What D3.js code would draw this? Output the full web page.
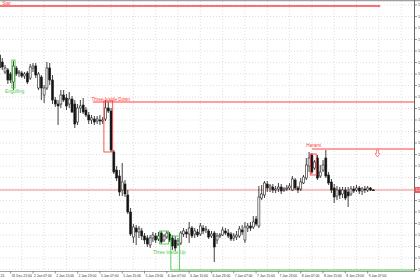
<!DOCTYPE html>
<html lang="en">
<head>
<meta charset="UTF-8">
<title>Candlestick patterns</title>
<script src="https://cdn.jsdelivr.net/npm/d3@7"></script>
<style>
	body { margin: 0; background: #fff; overflow: hidden; }
	svg { display: block; }
	text { font-family: "Liberation Sans", Arial, sans-serif; }
</style>
</head>
<body>
<script type="text/javascript">

	// hourly bars: [open, high, low, close]
	var candles = [
		[1.1945,1.1953,1.1925,1.1932],[1.1938,1.1942,1.1930,1.1933],[1.1928,1.1935,1.1926,1.1932],[1.1930,1.1932,1.1916,1.1920],
		[1.1926,1.1928,1.1917,1.1920],[1.1918,1.1939,1.1910,1.1934],[1.1932,1.1934,1.1924,1.1926],[1.1927,1.1930,1.1923,1.1928],
		[1.1927,1.1929,1.1922,1.1924],[1.1924,1.1928,1.1921,1.1926],[1.1927,1.1929,1.1916,1.1918],[1.1922,1.1936,1.1920,1.1933],
		[1.1932,1.1937,1.1928,1.1934],[1.1934,1.1937,1.1922,1.1925],[1.1912,1.1928,1.1910,1.1926],[1.1923,1.1925,1.1900,1.1912],
		[1.1905,1.1915,1.1897,1.1912],[1.1912,1.1938,1.1910,1.1932],[1.1932,1.1937,1.1915,1.1920],[1.1920,1.1925,1.1896,1.1900],
		[1.1900,1.1903,1.1893,1.1896],[1.1896,1.1900,1.1875,1.1894],[1.1896,1.1910,1.1892,1.1905],[1.1905,1.1910,1.1898,1.1900],
		[1.1902,1.1906,1.1890,1.1894],[1.1896,1.1908,1.1892,1.1901],[1.1901,1.1904,1.1887,1.1888],[1.1896,1.1900,1.1872,1.1876],
		[1.1878,1.1896,1.1875,1.1892],[1.1892,1.1900,1.1887,1.1894],[1.1895,1.1902,1.1886,1.1888],[1.1890,1.1893,1.1883,1.1885],
		[1.1885,1.1888,1.1876,1.1880],[1.1880,1.1885,1.1876,1.1882],[1.1881,1.1884,1.1875,1.1878],[1.1879,1.1884,1.1876,1.1881],
		[1.1880,1.1885,1.1875,1.1879],[1.1879,1.1883,1.1876,1.1880],[1.1881,1.1900,1.1879,1.1892],[1.1892,1.1898,1.1887,1.1889],
		[1.1889,1.1892,1.1848,1.1850],[1.1848,1.1850,1.1826,1.1828],[1.1830,1.1834,1.1819,1.1822],[1.1824,1.1830,1.1804,1.1808],
		[1.1810,1.1837,1.1804,1.1818],[1.1816,1.1820,1.1803,1.1806],[1.1805,1.1810,1.1786,1.1788],[1.1788,1.1792,1.1764,1.1766],
		[1.1763,1.1776,1.1757,1.1773],[1.1772,1.1775,1.1755,1.1768],[1.1768,1.1774,1.1762,1.1771],[1.1769,1.1772,1.1760,1.1764],
		[1.1764,1.1767,1.1756,1.1760],[1.1762,1.1765,1.1753,1.1756],[1.1755,1.1765,1.1752,1.1762],[1.1762,1.1768,1.1758,1.1765],
		[1.1764,1.1767,1.1757,1.1760],[1.1761,1.1768,1.1759,1.1764],[1.1767,1.1769,1.1756,1.1758],[1.1760,1.1766,1.1758,1.1764],
		[1.1763,1.1769,1.1761,1.1767],[1.1766,1.1768,1.1758,1.1760],[1.1762,1.1765,1.1750,1.1754],[1.1760,1.1764,1.1749,1.1752],
		[1.1756,1.1762,1.1754,1.1759],[1.1757,1.1769,1.1755,1.1767],[1.1766,1.1772,1.1763,1.1769],[1.1768,1.1771,1.1762,1.1766],
		[1.1766,1.1778,1.1757,1.1772],[1.1772,1.1774,1.1762,1.1764],[1.1766,1.1772,1.1762,1.1769],[1.1768,1.1771,1.1763,1.1765],
		[1.1766,1.1777,1.1764,1.1774],[1.1772,1.1775,1.1766,1.1769],[1.1770,1.1774,1.1767,1.1771],[1.1769,1.1771,1.1761,1.1763],
		[1.1764,1.1769,1.1762,1.1766],[1.1767,1.1769,1.1738,1.1753],[1.1760,1.1767,1.1756,1.1764],[1.1764,1.1767,1.1762,1.1765],
		[1.1765,1.1773,1.1764,1.1770],[1.1769,1.1772,1.1765,1.1767],[1.1767,1.1771,1.1762,1.1764],[1.1766,1.1768,1.1759,1.1761],
		[1.1762,1.1767,1.1759,1.1764],[1.1763,1.1769,1.1760,1.1765],[1.1764,1.1774,1.1762,1.1771],[1.1770,1.1775,1.1765,1.1768],
		[1.1760,1.1778,1.1757,1.1773],[1.1772,1.1777,1.1768,1.1774],[1.1774,1.1778,1.1769,1.1772],[1.1773,1.1784,1.1771,1.1778],
		[1.1781,1.1784,1.1774,1.1776],[1.1774,1.1814,1.1772,1.1803],[1.1802,1.1815,1.1800,1.1806],[1.1805,1.1819,1.1802,1.1817],
		[1.1816,1.1819,1.1808,1.1812],[1.1812,1.1816,1.1808,1.1814],[1.1813,1.1816,1.1807,1.1810],[1.1810,1.1814,1.1807,1.1811],
		[1.1811,1.1817,1.1808,1.1813],[1.1813,1.1816,1.1806,1.1809],[1.1810,1.1813,1.1808,1.1811],[1.1811,1.1815,1.1809,1.1812],
		[1.1812,1.1817,1.1810,1.1814],[1.1810,1.1824,1.1809,1.1821],[1.1820,1.1822,1.1810,1.1812],[1.1812,1.1814,1.1807,1.1810],
		[1.1811,1.1822,1.1809,1.1818],[1.1817,1.1825,1.1816,1.1823],[1.1822,1.1842,1.1820,1.1835],[1.1834,1.1848,1.1828,1.1842],
		[1.1845,1.1847,1.1826,1.1828],[1.1832,1.1840,1.1830,1.1838],[1.1842,1.1845,1.1820,1.1822],[1.1824,1.1835,1.1822,1.1828],
		[1.1830,1.1840,1.1828,1.1835],[1.1842,1.1850,1.1822,1.1824],[1.1825,1.1828,1.1815,1.1817],[1.1818,1.1821,1.1807,1.1810],
		[1.1812,1.1816,1.1797,1.1803],[1.1804,1.1814,1.1800,1.1810],[1.1810,1.1813,1.1801,1.1805],[1.1806,1.1813,1.1802,1.1810],
		[1.1810,1.1813,1.1800,1.1802],[1.1808,1.1813,1.1793,1.1804],[1.1806,1.1814,1.1804,1.1811],[1.1811,1.1814,1.1807,1.1809],
		[1.1810,1.1815,1.1808,1.1812],[1.1812,1.1814,1.1806,1.1809],[1.1809,1.1813,1.1805,1.1811],[1.1811,1.1814,1.1807,1.1810],
		[1.1810,1.1814,1.1808,1.1812],[1.1812,1.1813,1.1809,1.1810],[1.1810,1.1811,1.1810,1.1810]
	];

	var timeLabels = ["31 Dec 22:00", "2 Jan 07:00", "2 Jan 15:00", "2 Jan 23:00", "5 Jan 07:00", "5 Jan 15:00",
		"5 Jan 23:00", "6 Jan 07:00", "6 Jan 15:00", "6 Jan 23:00", "7 Jan 07:00", "7 Jan 15:00",
		"7 Jan 23:00", "8 Jan 07:00", "8 Jan 15:00", "8 Jan 23:00", "9 Jan 07:00"];
	var timeLabelBars = [4, 12, 20, 28, 36, 44, 52, 60, 68, 76, 84, 92, 100, 108, 116, 124, 132];

	var priceTicks = [1.19950, 1.19835, 1.19720, 1.19605, 1.19490, 1.19375, 1.19260, 1.19145, 1.19030, 1.18915,
		1.18800, 1.18685, 1.18570, 1.18455, 1.18340, 1.18225, 1.18110, 1.17995, 1.17880, 1.17765,
		1.17650, 1.17535, 1.17420, 1.17305];

	// pattern boxes: first bar, last bar, top, bottom
	var patterns = [
		{name: "Engulfing", bull: true, from: 5, to: 5, top: 1.1940, bottom: 1.1912, labelBar: 2, labelPrice: 1.1907},
		{name: "Three Inside Down", bull: false, from: 38, to: 40, top: 1.1899, bottom: 1.1848, labelBar: 33, labelPrice: 1.1899},
		{name: "Three Inside Up", bull: true, from: 58, to: 60, top: 1.1769, bottom: 1.1756, labelBar: 55, labelPrice: 1.17465},
		{name: "", bull: true, from: 62, to: 64, top: 1.1764, bottom: 1.1730},
		{name: "Harami", bull: false, from: 112, to: 113, top: 1.1846, bottom: 1.1825, labelBar: 110, labelPrice: 1.1853}
	];

	// horizontal levels (to: null = right edge)
	var levels = [
		{name: "Star", price: 1.1994, from: -1, to: 136.5, bull: false, labelBar: 1, labelPrice: 1.1995},
		{price: 1.1898, from: 33.5, to: null, bull: false},
		{price: 1.1851, from: 112, to: null, bull: false},
		{price: 1.1730, from: 64.5, to: null, bull: true}
	];

	var signalArrow = {bar: 135.5, price: 1.1850};
	var lastPrice = 1.1810;

	var width = 420, height = 280;
	var plot = {left: 0, right: 414, top: 1, bottom: 271};
	var red = '#ff4040', green = '#4ccc4c';

	var x = d3.scaleLinear().domain([0, 147]).range([-0.5, 409.5]);
	var y = d3.scaleLinear().domain([1.2000, 1.1700]).range([0, 300]);

	var svg = d3.select('body').append('svg')
		.attr('width', width)
		.attr('height', height);

	svg.append('defs').append('clipPath').attr('id', 'plot')
		.append('rect')
		.attr('x', plot.left).attr('y', plot.top)
		.attr('width', plot.right - plot.left).attr('height', plot.bottom - plot.top);

	// grid
	var grid = svg.append('g').attr('class', 'grid')
		.attr('stroke', '#d6d6d6').attr('stroke-dasharray', '1,2').attr('stroke-width', 0.8);

	grid.selectAll('.hgrid').data(priceTicks).enter().append('line')
		.attr('x1', plot.left).attr('x2', plot.right)
		.attr('y1', function (d) { return y(d); })
		.attr('y2', function (d) { return y(d); });

	grid.selectAll('.vgrid').data(d3.range(0, 147, 8)).enter().append('line')
		.attr('x1', function (d) { return x(d); })
		.attr('x2', function (d) { return x(d); })
		.attr('y1', plot.top).attr('y2', plot.bottom);

	var chart = svg.append('g').attr('clip-path', 'url(#plot)');

	// current price line
	chart.append('line')
		.attr('x1', plot.left).attr('x2', plot.right)
		.attr('y1', y(lastPrice)).attr('y2', y(lastPrice))
		.attr('stroke', '#f28c8c').attr('stroke-width', 1);

	// candles
	var bars = chart.append('g').selectAll('.candle')
		.data(candles)
		.enter().append('g')
		.attr('class', 'candle');

	bars.append('line')
		.attr('x1', function (d, i) { return x(i); })
		.attr('x2', function (d, i) { return x(i); })
		.attr('y1', function (d) { return y(d[1]); })
		.attr('y2', function (d) { return y(d[2]); })
		.attr('stroke', '#111').attr('stroke-width', 0.8);

	bars.append('rect')
		.attr('x', function (d, i) { return x(i) - 1; })
		.attr('width', 2)
		.attr('y', function (d) { return y(Math.max(d[0], d[3])); })
		.attr('height', function (d) { return Math.max(Math.abs(y(d[0]) - y(d[3])), 0.7); })
		.attr('fill', function (d) { return d[3] > d[0] ? '#fff' : '#111'; })
		.attr('stroke', '#222').attr('stroke-width', 0.6);

	// levels
	chart.selectAll('.level').data(levels).enter().append('line')
		.attr('x1', function (d) { return x(d.from); })
		.attr('x2', function (d) { return d.to === null ? plot.right : x(d.to); })
		.attr('y1', function (d) { return y(d.price); })
		.attr('y2', function (d) { return y(d.price); })
		.attr('stroke', function (d) { return d.bull ? green : red; })
		.attr('stroke-width', function (d) { return d.name ? 1.5 : 1.2; });

	// pattern boxes
	chart.selectAll('.box').data(patterns).enter().append('rect')
		.attr('x', function (d) { return x(d.from) - 1.6; })
		.attr('width', function (d) { return x(d.to) - x(d.from) + 3.2; })
		.attr('y', function (d) { return y(d.top); })
		.attr('height', function (d) { return y(d.bottom) - y(d.top); })
		.attr('fill', 'none')
		.attr('stroke', function (d) { return d.bull ? green : red; })
		.attr('stroke-width', 0.9);

	// arrow
	chart.append('path')
		.attr('d', 'M-1,0 L1,0 L1,3.5 L2.4,3.5 L0,7 L-2.4,3.5 L-1,3.5 Z')
		.attr('transform', 'translate(' + x(signalArrow.bar) + ',' + y(signalArrow.price) + ')')
		.attr('fill', '#fff').attr('stroke', '#ff5a5a').attr('stroke-width', 0.7);

	// labels
	var labelled = patterns.filter(function (d) { return d.name; })
		.concat(levels.filter(function (d) { return d.name; }));
	chart.selectAll('.plabel').data(labelled).enter().append('text')
		.attr('x', function (d) { return x(d.labelBar); })
		.attr('y', function (d) { return y(d.labelPrice); })
		.attr('fill', function (d) { return d.bull ? green : red; })
		.attr('font-size', 4.6)
		.text(function (d) { return d.name; });

	// frame
	svg.append('line')
		.attr('x1', 0).attr('x2', width).attr('y1', 0.6).attr('y2', 0.6)
		.attr('stroke', '#a0a0a0').attr('stroke-width', 1.3);

	// price axis (tick label hidden where the last-price tag sits)
	var shownTicks = priceTicks.filter(function (d) { return Math.abs(y(d) - y(lastPrice)) > 4; });
	var yAxis = svg.append('g').attr('transform', 'translate(' + plot.right + ',0)');
	yAxis.append('line').attr('x1', 0.5).attr('x2', 0.5).attr('y1', 0).attr('y2', plot.bottom)
		.attr('stroke', '#666').attr('stroke-width', 1);
	yAxis.selectAll('.tick').data(priceTicks).enter().append('line')
		.attr('x1', 0.5).attr('x2', 3)
		.attr('y1', function (d) { return y(d); })
		.attr('y2', function (d) { return y(d); })
		.attr('stroke', '#666').attr('stroke-width', 0.7);
	yAxis.selectAll('.plab').data(shownTicks).enter().append('text')
		.attr('x', 4).attr('y', function (d) { return y(d) + 1.3; })
		.attr('font-size', 3.6).attr('fill', '#333')
		.text(function (d) { return d.toFixed(5); });
	yAxis.append('rect')
		.attr('x', 0.5).attr('y', y(lastPrice) - 3).attr('width', 6).attr('height', 6)
		.attr('fill', '#e86060');
	yAxis.append('text')
		.attr('x', 2).attr('y', y(lastPrice) + 1.3)
		.attr('font-size', 3.6).attr('fill', '#fff')
		.text(lastPrice.toFixed(5));

	// time axis
	var xAxis = svg.append('g');
	xAxis.append('line').attr('x1', 0).attr('x2', plot.right + 1).attr('y1', plot.bottom + 0.5).attr('y2', plot.bottom + 0.5)
		.attr('stroke', '#888').attr('stroke-width', 0.8);
	xAxis.selectAll('.tick').data(timeLabelBars).enter().append('line')
		.attr('x1', function (d) { return x(d); })
		.attr('x2', function (d) { return x(d); })
		.attr('y1', plot.bottom).attr('y2', plot.bottom + 2.5)
		.attr('stroke', '#666').attr('stroke-width', 0.7);
	xAxis.selectAll('.tlab').data(timeLabels).enter().append('text')
		.attr('x', function (d, i) { return x(timeLabelBars[i]) + 1; })
		.attr('y', plot.bottom + 6.2)
		.attr('font-size', 3.4).attr('fill', '#333')
		.text(function (d) { return d; });
	xAxis.append('text')
		.attr('x', x(0) + 1).attr('y', plot.bottom + 6.2)
		.attr('font-size', 3.4).attr('fill', '#333')
		.text('25');

</script>
</body>
</html>
